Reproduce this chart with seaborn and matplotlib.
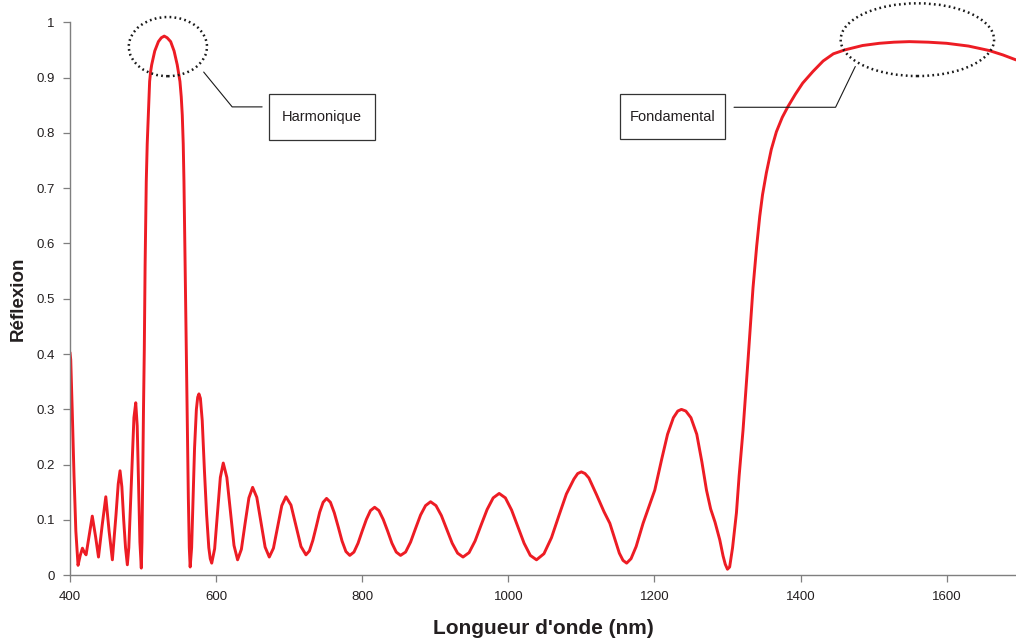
import matplotlib
matplotlib.use("Agg")
import matplotlib.pyplot as plt
from matplotlib.patches import Ellipse, Rectangle
import pandas as pd
import seaborn as sns

# Reflection spectrum of the mirror: wavelength (nm) and reflection
wavelength = [
    400, 401, 403, 405.5, 408, 411, 414, 417, 419.5, 422,
    426, 430.5, 435, 439, 444, 449, 453.5, 458, 463, 466,
    468.5, 471, 473.5, 476, 478.5, 480.5, 482, 485, 487.5, 490,
    492, 494, 495.7, 497.6, 498.5, 499.5, 500.6, 501.7, 502.8, 504.4,
    505.7, 507.2, 508, 509, 510.3, 511.8, 516, 521, 525, 529,
    533, 537.8, 542.5, 546.8, 549, 550.5, 552.3, 553.7, 555, 556,
    557.6, 559.2, 560.5, 562, 563.3, 564.5, 566.5, 568.5, 570.5, 573,
    574.8, 576.5, 578.5, 581, 584, 587, 590, 592, 594, 598,
    601.9, 605.8, 609.8, 614.7, 619.6, 624.5, 629.4, 634.6, 639.7, 644.9,
    650, 655.7, 661.4, 667.1, 672.8, 678.5, 684.2, 689.9, 695.6, 702.5,
    709.3, 716.2, 723, 727.7, 732.4, 737.1, 741.8, 746.5, 751.2, 756.5,
    761.8, 767.1, 772.4, 777.7, 783, 788.7, 794.3, 800, 805.7, 811.3,
    817, 822.9, 828.8, 834.8, 840.7, 846.6, 852.5, 859.4, 866.2, 873.1,
    879.9, 886.7, 893.6, 901, 908.4, 915.8, 923.2, 930.6, 938, 946.3,
    954.5, 962.8, 971, 979.3, 987.5, 996, 1004.5, 1013, 1021.6, 1030.1,
    1038.6, 1048.8, 1059.1, 1069.3, 1079.5, 1089.8, 1095, 1100, 1105, 1110.3,
    1120.7, 1131, 1139, 1146, 1152, 1157, 1162, 1168, 1175, 1184.5,
    1192, 1200.5, 1210, 1218, 1226, 1232, 1237, 1243, 1250, 1258,
    1265, 1271.3, 1277, 1283, 1289.5, 1294, 1297, 1300, 1303, 1307,
    1312.3, 1316, 1321.3, 1328.2, 1335, 1340, 1344.2, 1348, 1353.3, 1360,
    1367, 1375, 1383, 1393, 1403, 1417, 1431, 1445, 1460.5, 1485,
    1508, 1528, 1549, 1575, 1600, 1630, 1658, 1677, 1695,
]
reflection = [
    0.403, 0.39, 0.30, 0.18, 0.08, 0.018, 0.036, 0.049, 0.042, 0.037,
    0.07, 0.107, 0.07, 0.033, 0.09, 0.142, 0.08, 0.028, 0.11, 0.165,
    0.189, 0.16, 0.10, 0.05, 0.019, 0.05, 0.10, 0.20, 0.285, 0.312,
    0.27, 0.16, 0.06, 0.013, 0.06, 0.18, 0.30, 0.407, 0.56, 0.712,
    0.78, 0.832, 0.865, 0.893, 0.91, 0.923, 0.948, 0.965, 0.972, 0.975,
    0.972, 0.965, 0.948, 0.923, 0.905, 0.893, 0.865, 0.832, 0.78, 0.712,
    0.56, 0.407, 0.28, 0.14, 0.05, 0.015, 0.05, 0.14, 0.23, 0.30,
    0.322, 0.328, 0.32, 0.28, 0.19, 0.11, 0.05, 0.03, 0.022, 0.048,
    0.113, 0.177, 0.203, 0.177, 0.116, 0.054, 0.028, 0.047, 0.094, 0.140,
    0.159, 0.141, 0.096, 0.051, 0.033, 0.049, 0.088, 0.126, 0.142, 0.127,
    0.090, 0.052, 0.037, 0.044, 0.063, 0.088, 0.114, 0.132, 0.139, 0.132,
    0.113, 0.088, 0.062, 0.043, 0.036, 0.042, 0.058, 0.080, 0.101, 0.117,
    0.123, 0.117, 0.101, 0.080, 0.058, 0.042, 0.036, 0.042, 0.060, 0.085,
    0.109, 0.126, 0.133, 0.126, 0.108, 0.083, 0.058, 0.040, 0.033, 0.041,
    0.062, 0.091, 0.119, 0.140, 0.148, 0.140, 0.118, 0.088, 0.058, 0.036,
    0.028, 0.039, 0.068, 0.108, 0.147, 0.174, 0.184, 0.187, 0.184, 0.176,
    0.146, 0.115, 0.094, 0.065, 0.04, 0.027, 0.022, 0.03, 0.052, 0.094,
    0.122, 0.154, 0.21, 0.255, 0.285, 0.297, 0.300, 0.297, 0.285, 0.255,
    0.205, 0.154, 0.12, 0.096, 0.064, 0.035, 0.02, 0.011, 0.015, 0.05,
    0.113, 0.18, 0.262, 0.39, 0.52, 0.595, 0.649, 0.688, 0.728, 0.77,
    0.802, 0.828, 0.848, 0.870, 0.89, 0.911, 0.93, 0.943, 0.950, 0.958,
    0.962, 0.964, 0.965, 0.964, 0.962, 0.957, 0.949, 0.941, 0.932,
]
assert len(wavelength) == len(reflection)

x_ticks = [400, 600, 800, 1000, 1200, 1400, 1600]
y_ticks = [0, 0.1, 0.2, 0.3, 0.4, 0.5, 0.6, 0.7, 0.8, 0.9, 1]
y_tick_labels = ["0", "0.1", "0.2", "0.3", "0.4", "0.5", "0.6", "0.7", "0.8", "0.9", "1"]

sns.set_theme(style="ticks")
plt.rcParams["font.family"] = ["Liberation Sans", "DejaVu Sans"]

text_color = "#231f20"
axis_color = "#7f7f7f"

fig = plt.figure(figsize=(10.16, 6.42), dpi=100)
ax = fig.add_axes([0.0689, 0.1039, 0.9311, 0.8614])

df = pd.DataFrame({"wavelength": wavelength, "reflection": reflection})
sns.lineplot(data=df, x="wavelength", y="reflection", ax=ax, sort=False,
             estimator=None, color="#ed1c24", linewidth=2.1)

ax.set_xlim(400, 1695)
ax.set_ylim(0, 1)
ax.set_xticks(x_ticks)
ax.set_xticklabels([str(t) for t in x_ticks])
ax.set_yticks(y_ticks)
ax.set_yticklabels(y_tick_labels)
ax.tick_params(axis="both", direction="out", length=5, width=0.9,
               color=axis_color, labelsize=9.5, labelcolor=text_color, pad=6)
for side in ("top", "right"):
    ax.spines[side].set_visible(False)
for side in ("left", "bottom"):
    ax.spines[side].set_color(axis_color)
    ax.spines[side].set_linewidth(1.0)

ax.set_xlabel("Longueur d'onde (nm)", fontsize=15, fontweight="bold",
              color=text_color, labelpad=12)
ax.set_ylabel("Réflexion", fontsize=13.5, fontweight="bold",
              color=text_color, labelpad=7)

# Callouts: dotted ellipse round each band, leader line and boxed label
callouts = [
    {"center": (534, 0.956), "size": (107, 0.107),
     "leader": ([583, 622, 663], [0.910, 0.847, 0.847]),
     "box": (672, 0.7872, 146, 0.0832), "text": "Harmonique"},
    {"center": (1560, 0.9685), "size": (210, 0.1315),
     "leader": ([1475, 1448, 1309], [0.920, 0.8463, 0.8463]),
     "box": (1153, 0.7884, 144, 0.0814), "text": "Fondamental"},
]
for c in callouts:
    ax.add_patch(Ellipse(c["center"], c["size"][0], c["size"][1], fill=False,
                         edgecolor="#1a1a1a", linewidth=1.8,
                         linestyle=(0, (0.7, 1.3)), clip_on=False, zorder=4))
    ax.plot(c["leader"][0], c["leader"][1], color="#1a1a1a", linewidth=0.8,
            clip_on=False, zorder=4)
    bx, by, bw, bh = c["box"]
    ax.add_patch(Rectangle((bx, by), bw, bh, fill=True, facecolor="white",
                           edgecolor="#333333", linewidth=0.9, zorder=5))
    ax.text(bx + bw / 2, by + bh / 2, c["text"], ha="center", va="center",
            fontsize=10.5, color=text_color, zorder=6)

fig.savefig("out.png", dpi=100)
